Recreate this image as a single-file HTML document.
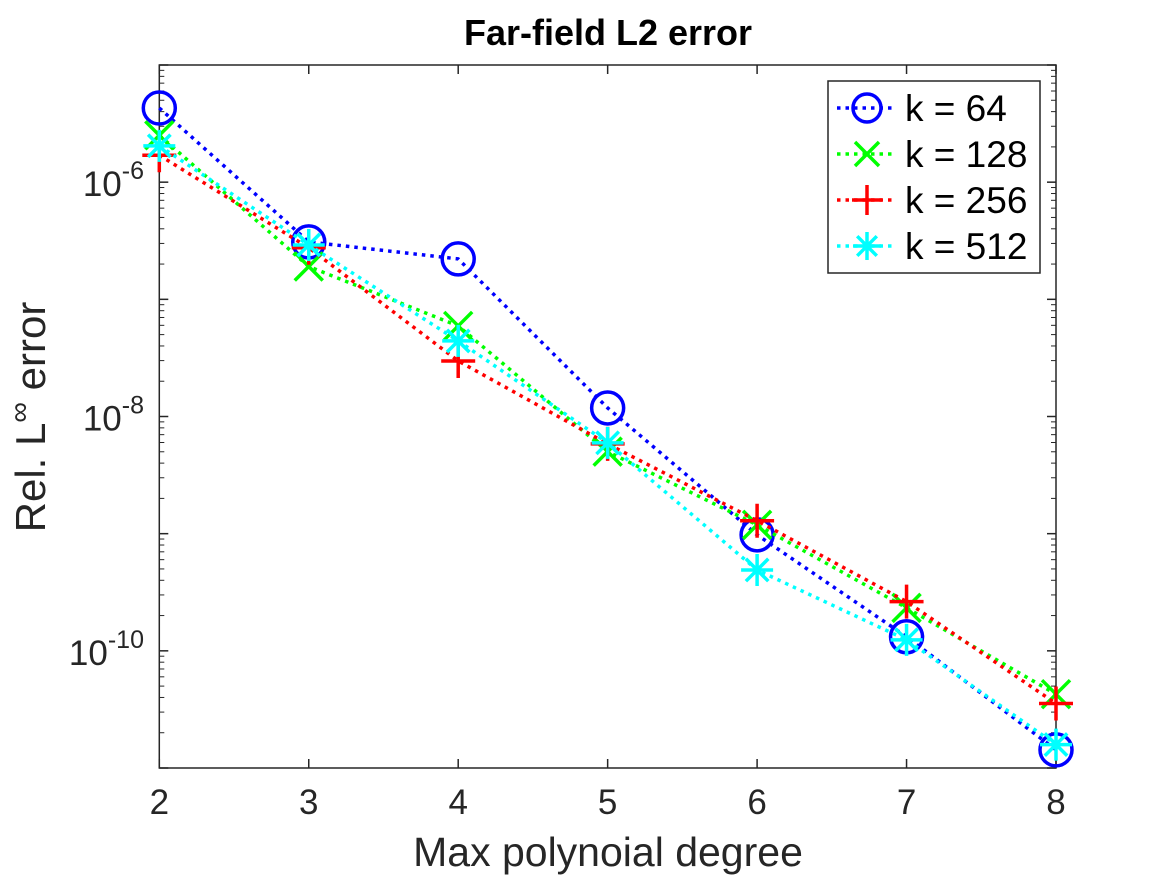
<!DOCTYPE html>
<html><head><meta charset="utf-8"><style>
body{margin:0;background:#fff}
svg{display:block;font-family:"Liberation Sans",sans-serif}
</style></head><body>
<svg id="chart" width="1167" height="875">
<rect width="1167" height="875" fill="#fff"/>
<text x="608" y="45" text-anchor="middle" font-size="36" font-weight="bold" fill="#000">Far-field L2 error</text>
<g id="axes"></g>
<g id="series"></g>
<text x="608" y="866" text-anchor="middle" font-size="41" fill="#262626">Max polynoial degree</text>
<text transform="translate(45,417) rotate(-90)" text-anchor="middle" font-size="42" fill="#262626">Rel. L<tspan baseline-shift="super" font-size="29">∞</tspan> error</text>
<g id="legend"></g>
</svg>
<script>
const degrees=[2,3,4,5,6,7,8];
const k64=[-5.367,-6.51,-6.655,-7.927,-9.01,-9.88,-10.845];
const k128=[-5.60,-6.72,-7.227,-8.30,-8.925,-9.633,-10.37];
const k256=[-5.77,-6.56,-7.526,-8.234,-8.89,-9.58,-10.45];
const k512=[-5.69,-6.536,-7.355,-8.225,-9.31,-9.906,-10.80];
const xTicks=[2,3,4,5,6,7,8];
const yTickExps=[-10,-8,-6];
const seriesNames=["k = 64","k = 128","k = 256","k = 512"];
const NS="http://www.w3.org/2000/svg";
const L=159.3,R=1056,T=65,B=768,xmin=2,xmax=8,ymin=-11,ymax=-5;
const sx=v=>L+(v-xmin)/(xmax-xmin)*(R-L);
const sy=v=>T+(ymax-v)/(ymax-ymin)*(B-T);
function mk(tag,attrs,parent){const e=document.createElementNS(NS,tag);for(const k in attrs)e.setAttribute(k,attrs[k]);parent.appendChild(e);return e;}
const ax=document.getElementById('axes');
const frame=mk('rect',{x:L,y:T,width:R-L,height:B-T,fill:'none',stroke:'#262626','stroke-width':1.5},ax);


xTicks.forEach(t=>{
  const x=sx(t);
  mk('line',{x1:x,y1:B,x2:x,y2:B-9,stroke:'#262626','stroke-width':1.5},ax);
  mk('line',{x1:x,y1:T,x2:x,y2:T+9,stroke:'#262626','stroke-width':1.5},ax);
  const tx=mk('text',{x:x,y:814,'text-anchor':'middle','font-size':35,fill:'#262626'},ax);
  tx.textContent=t;
  
  
});
for(let d=ymin;d<=ymax;d++){
  const y=sy(d);
  mk('line',{x1:L,y1:y,x2:L+9,y2:y,stroke:'#262626','stroke-width':1.5},ax);
  mk('line',{x1:R,y1:y,x2:R-9,y2:y,stroke:'#262626','stroke-width':1.5},ax);
  if(d<ymax)for(let m=2;m<10;m++){
    const yy=sy(d+Math.log10(m));
    mk('line',{x1:L,y1:yy,x2:L+5,y2:yy,stroke:'#262626','stroke-width':1},ax);
    mk('line',{x1:R,y1:yy,x2:R-5,y2:yy,stroke:'#262626','stroke-width':1},ax);
  }
}
yTickExps.forEach(e=>{
  const t=mk('text',{x:144,y:sy(e)+14,'text-anchor':'end','font-size':35,fill:'#262626'},ax);
  t.innerHTML='10<tspan dy="-17" font-size="25">'+e+'</tspan>';
  
  
});
function marker(type,x,y,c,g,s){
  s=s||17;
  if(type==='o')mk('circle',{cx:x,cy:y,r:s-1,fill:'none',stroke:c,'stroke-width':3.5},g);
  else if(type==='x'){mk('path',{d:`M${x-s+3},${y-s+3}L${x+s-3},${y+s-3}M${x-s+3},${y+s-3}L${x+s-3},${y-s+3}`,stroke:c,'stroke-width':3.5},g);}
  else if(type==='+'){mk('path',{d:`M${x-s},${y}H${x+s}M${x},${y-s}V${y+s}`,stroke:c,'stroke-width':3.5},g);}
  else {const a=s-1,b=a*0.7;mk('path',{d:`M${x-a},${y}H${x+a}M${x},${y-a}V${y+a}M${x-b},${y-b}L${x+b},${y+b}M${x-b},${y+b}L${x+b},${y-b}`,stroke:c,'stroke-width':3.5},g);}
}
const series=[[k64,'#0000ff','o','series-k64'],[k128,'#00ff00','x','series-k128'],[k256,'#ff0000','+','series-k256'],[k512,'#00ffff','*','series-k512']];
const sg=document.getElementById('series');
series.forEach(([vals,c,m,name])=>{
  const g=mk('g',{},sg);
  
  
  const pts=vals.map((v,i)=>sx(degrees[i])+','+sy(v)).join(' ');
  mk('polyline',{points:pts,fill:'none',stroke:c,'stroke-width':3.5,'stroke-dasharray':'3.5 5'},g);
  vals.forEach((v,i)=>marker(m,sx(degrees[i]),sy(v),c,g));
});
const lg=document.getElementById('legend');


mk('rect',{x:828,y:81,width:212,height:192,fill:'#fff',stroke:'#262626','stroke-width':1.5},lg);
series.forEach(([vals,c,m],i)=>{
  const y=108+i*46;
  const e=mk('g',{},lg);
  
  
  mk('line',{x1:837,y1:y,x2:896,y2:y,stroke:c,'stroke-width':3.5,'stroke-dasharray':'3.5 5'},e);
  marker(m,867,y,c,e,15);
  const t=mk('text',{x:905,y:y+13,'font-size':37,fill:'#000'},e);
  t.textContent=seriesNames[i];
});
</script>
</body></html>
